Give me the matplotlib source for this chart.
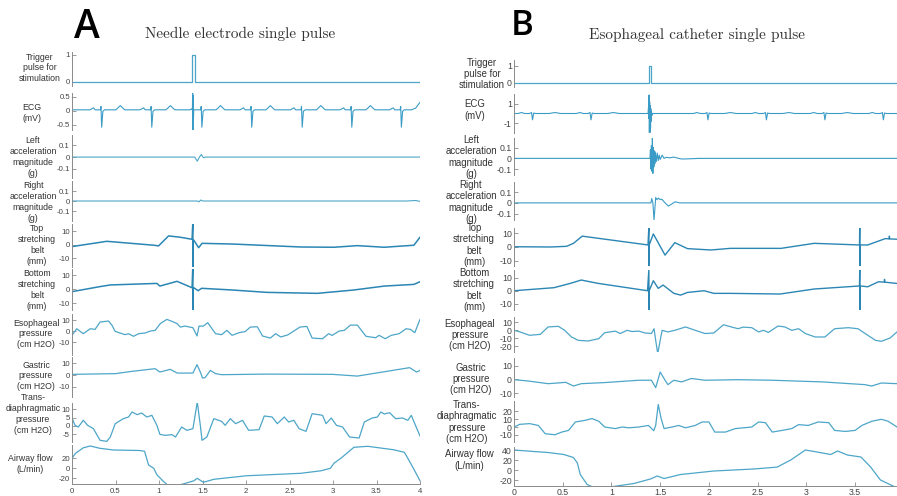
import matplotlib
matplotlib.use('Agg')
import matplotlib.pyplot as plt
import numpy as np
from matplotlib.ticker import FuncFormatter

plt.rcParams['axes.unicode_minus'] = False
plt.rcParams['font.family'] = ['Liberation Sans', 'DejaVu Sans']

# ---------------- data ----------------
labels = ["Trigger\npulse for\nstimulation", "ECG\n(mV)",
          "Left\nacceleration\nmagnitude\n(g)", "Right\nacceleration\nmagnitude\n(g)",
          "Top\nstretching\nbelt\n(mm)", "Bottom\nstretching\nbelt\n(mm)",
          "Esophageal\npressure\n(cm H2O)", "Gastric\npressure\n(cm H2O)",
          "Trans-\ndiaphragmatic\npressure\n(cm H2O)", "Airway flow\n(L/min)"]
titleA = "Needle electrode single pulse"
titleB = "Esophageal catheter single pulse"
xticksA = [0, 0.5, 1, 1.5, 2, 2.5, 3, 3.5, 4]
xticksB = [0, 0.5, 1, 1.5, 2, 2.5, 3, 3.5]

# ----- Panel A -----
trigA_t = [0, 1.38, 1.38, 1.41, 1.41, 4.0]
trigA_v = [0, 0, 1, 1, 0, 0]

ecgA_beats = [0.335, 0.911, 1.487, 2.06, 2.64, 3.21, 3.78]
ecgA_dt = [-0.13, -0.105, -0.088, -0.07, -0.02, -0.008, -0.002, 0.006, 0.02, 0.04, 0.17, 0.22, 0.27]
ecgA_dv = [0.0, 0.04, 0.07, 0.0, 0.0, 0.0, 0.12, -0.62, -0.05, 0.0, 0.0, 0.15, 0.0]
ecgA_base_t = [0.0, 3.9, 4.0]
ecgA_base_v = [0.04, 0.04, 0.16]
ecgA_art_t = [1.384, 1.387, 1.390, 1.393, 1.396, 1.399]
ecgA_art_v = [0.04, 0.72, -0.72, 0.55, -0.3, 0.04]

laccA_t = [0, 1.41, 1.44, 1.465, 1.487, 1.51, 1.54, 4.0]
laccA_v = [0, 0, -0.035, 0.0, 0.022, -0.005, 0, 0]
raccA_t = [0, 1.44, 1.46, 1.48, 1.50, 1.53, 3.85, 3.95, 4.0]
raccA_v = [0, 0, -0.008, 0.01, 0.0, 0, 0, 0.005, -0.004]

topA_t = [0, 0.40, 0.94, 0.995, 1.11, 1.245, 1.38, 1.389, 1.390, 1.392, 1.40, 1.456, 1.495,
          1.84, 2.63, 3.01, 3.28, 3.59, 3.93, 4.0]
topA_v = [-1.2, 2.7, -0.2, -0.7, 6.7, 5.7, 4.2, 17, -17, 3.8, 3.5, -2.0, 1.2,
          0.7, -1.5, -1.7, -0.5, -1.7, -0.2, 5.7]
botA_t = [0, 0.32, 0.44, 0.976, 1.01, 1.207, 1.38, 1.389, 1.390, 1.392, 1.40, 1.45, 1.49,
          1.84, 2.24, 2.82, 3.24, 3.59, 3.93, 4.0]
botA_v = [-1.9, 1.7, 2.9, 4.0, 2.1, 5.5, 0.9, 17, -17, 0.9, 0.9, -1.2, 0.5,
          -0.7, -2.4, -3.1, -0.7, 2.1, 3.3, 5.2]

esoA_t = [0, 0.054, 0.13, 0.21, 0.265, 0.323, 0.42, 0.46, 0.496, 0.61, 0.65, 0.707, 0.765, 0.84,
          0.90, 0.956, 1.014, 1.09, 1.149, 1.21, 1.245, 1.30, 1.39, 1.437, 1.46, 1.51, 1.56, 1.65,
          1.72, 1.78, 1.84, 1.92, 1.99, 2.05, 2.13, 2.19, 2.28, 2.34, 2.40, 2.48, 2.55, 2.62, 2.70,
          2.76, 2.88, 2.95, 2.99, 3.07, 3.13, 3.20, 3.28, 3.38, 3.49, 3.53, 3.60, 3.67, 3.76, 3.84,
          3.89, 3.94, 4.0]
esoA_v = [-3.9, 2.1, -2.4, 2.1, 1.5, 8.2, 9.1, 5.2, -0.3, -3.3, -2.4, -4.8, -2.4, -1.8,
          0.0, 0.6, 6.7, 10.6, 8.8, 6.7, 3.6, 4.5, 3.0, -4.5, 4.5, 4.5, 7.6, -2.4,
          -3.3, 0.6, -3.9, -1.5, -0.5, 3.6, 3.9, -4.5, -6.4, -2.4, -5.4, -3.5, 0.0, 3.6, 4.2,
          -6.4, -7.0, -2.4, -4.0, 0.0, 0.6, 5.4, 5.4, -4.8, -6.1, -3.9, -7.0, -3.9, -2.4, 2.1,
          1.5, -1.5, 10.6]

gasA_t = [0, 0.5, 0.69, 0.956, 1.01, 1.13, 1.21, 1.39, 1.437, 1.475, 1.50, 1.53, 1.59, 1.65,
          1.72, 2.22, 2.99, 3.28, 3.57, 3.88, 3.96, 4.0]
gasA_v = [0.6, 1.2, 3.2, 5.5, 2.6, 4.9, 1.7, 1.7, 9.0, 2.6, -2.6, -2.2, 4.0, 1.2,
          0.3, 0.8, 0.6, -0.9, 2.6, 6.4, 2.6, 4.0]

traA_t = [0, 0.035, 0.073, 0.13, 0.18, 0.246, 0.323, 0.40, 0.44, 0.497, 0.59, 0.65, 0.69, 0.75,
          0.80, 0.86, 0.918, 0.976, 1.01, 1.07, 1.149, 1.19, 1.26, 1.32, 1.39, 1.44, 1.475, 1.495,
          1.55, 1.63, 1.72, 1.76, 1.82, 1.88, 1.96, 2.03, 2.15, 2.21, 2.30, 2.36, 2.44, 2.49, 2.55,
          2.61, 2.69, 2.76, 2.88, 2.92, 2.98, 3.04, 3.11, 3.19, 3.30, 3.36, 3.45, 3.51, 3.55, 3.59,
          3.65, 3.72, 3.80, 3.86, 3.90, 3.94, 4.0]
traA_v = [4.8, 0.4, -0.6, 3.4, 0.4, -1.6, -8.6, -9.2, -6.6, 1.4, 4.4, 5.4, 8.4, 6.8,
          7.8, 5.4, 6.4, 0.4, -5.0, -5.6, -5.2, -6.6, -0.6, -2.6, -1.6, 14.4, 0.4, -8.6,
          -6.6, 4.4, 2.8, 0.4, 4.4, 1.4, 3.4, -2.6, -2.2, 6.0, 5.4, 1.4, 5.4, 2.4, 3.4,
          -1.6, -3.2, 7.4, 6.4, 1.4, 4.8, 0.4, -0.6, -6.6, -7.2, 2.4, 4.8, 5.4, 8.4, 7.2,
          8.0, 4.4, 4.8, 3.4, 6.4, 1.4, -6.0]

airA_t = [0, 0.04, 0.13, 0.21, 0.32, 0.477, 0.78, 0.834, 0.88, 0.94, 0.976, 1.05, 1.11, 1.245,
          1.40, 1.44, 1.51, 1.63, 2.0, 2.63, 2.86, 2.97, 3.01, 3.09, 3.24, 3.40, 3.70, 3.82, 3.87,
          3.93, 4.0]
airA_v = [20, 30, 41, 44.6, 40, 36.6, 35.6, 34, 6.6, 0, -13, -26, -35, -33,
          -25, -20, -28, -22, -15, -10, -5, 0, 10, 20, 42, 44, 37, 32, 17,
          -2, -25]

# ----- Panel B -----
trigB_t = [0, 1.383, 1.383, 1.41, 1.41, 3.93]
trigB_v = [0, 0, 1, 1, 0, 0]

ecgB_beats = [0.19, 0.79, 1.99, 2.59, 3.19, 3.79]
ecgB_dt = [-0.15, -0.113, -0.08, -0.03, -0.01, 0.0, 0.012, 0.03, 0.17, 0.23, 0.29]
ecgB_dv = [0.0, 0.1, 0.0, 0.0, 0.1, -0.65, 0.05, 0.0, 0.0, 0.1, 0.0]
ecgB_base_t = [0.0, 3.93]
ecgB_base_v = [0.0, 0.0]
ecgB_art_t = [1.375, 1.38, 1.383, 1.386, 1.389, 1.392, 1.395, 1.398, 1.401, 1.404, 1.407,
              1.41, 1.415, 1.42]
ecgB_art_v = [0.0, 0.6, -0.5, 1.9, -1.95, 1.2, -1.95, 0.8, -1.5, 0.5, -0.8, 0.2, -0.2, 0.0]

laccB_t = [0, 1.395, 1.400, 1.405, 1.410, 1.415, 1.420, 1.425, 1.430, 1.435, 1.44, 1.445,
           1.45, 1.46, 1.47, 1.48, 1.49, 1.50, 1.52, 1.54, 1.56, 1.60, 1.64, 1.69, 1.72, 1.8,
           1.9, 3.93]
laccB_v = [0, 0, 0.08, -0.1, 0.12, -0.12, 0.19, -0.14, 0.1, -0.08, 0.07, -0.05, 0.06, -0.03,
           0.05, -0.02, 0.03, -0.01, 0.03, 0.0, 0.01, 0.005, 0.012, 0.0, -0.006, -0.004,
           0.0, 0.0]
raccB_t = [0, 1.405, 1.413, 1.425, 1.437, 1.454, 1.468, 1.482, 1.50, 1.516, 1.55, 1.584,
           1.62, 1.653, 1.70, 1.755, 3.93]
raccB_v = [0, 0, 0.04, 0.0, -0.16, 0.05, 0.03, 0.045, 0.03, 0.035, 0.0, -0.03,
           -0.01, 0.01, 0.0, 0.0, 0.0]

topB_t = [0, 0.377, 0.54, 0.61, 0.70, 0.886, 1.375, 1.384, 1.385, 1.387, 1.43, 1.55, 1.65,
          1.78, 2.02, 2.22, 2.74, 3.08, 3.545, 3.548, 3.549, 3.551, 3.63, 3.81, 3.85, 3.852,
          3.854, 3.93]
topB_v = [0.2, 0.0, 0.5, 2.7, 8.0, 6.2, 1.5, 15, -15, 1.5, 9.6, -6.0, 3.2,
          -1.2, -2.2, -1.0, -1.0, 2.7, 1.5, 15, -15, 1.5, 1.5, 6.2, 6.0, 8.0,
          6.0, 5.7]
botB_t = [0, 0.41, 0.58, 0.69, 0.86, 1.37, 1.384, 1.385, 1.387, 1.43, 1.48, 1.53, 1.64, 1.71,
          1.78, 1.95, 2.05, 2.22, 2.73, 3.08, 3.545, 3.548, 3.549, 3.551, 3.63, 3.74, 3.80,
          3.802, 3.804, 3.93]
botB_v = [0.0, 2.3, 5.6, 8.1, 5.6, 0.0, 16, -16, 0.0, 7.6, 1.8, 4.3, -2.0, -3.3,
          -1.3, 0.0, -2.0, -2.0, -2.5, 1.3, 3.6, 16, -16, 3.6, 3.0, 6.8, 6.5,
          8.6, 6.5, 5.5]

esoB_t = [0, 0.062, 0.16, 0.27, 0.35, 0.455, 0.52, 0.59, 0.66, 0.76, 0.87, 0.93, 1.04, 1.09,
          1.16, 1.21, 1.28, 1.345, 1.41, 1.437, 1.454, 1.475, 1.50, 1.52, 1.58, 1.65, 1.76, 1.86,
          1.96, 2.05, 2.15, 2.23, 2.30, 2.35, 2.44, 2.51, 2.56, 2.61, 2.71, 2.78, 2.85, 2.92,
          2.99, 3.09, 3.19, 3.29, 3.43, 3.53, 3.62, 3.71, 3.77, 3.86, 3.93]
esoB_v = [0, -2, -6.2, -5, 4.2, 5, 0, -8.3, -12.5, -13.3, -10.4, -3, -1, -4,
          0, -1.5, -1, -3.3, -4, 2, -12.5, -29, -12.5, 0, -2, 0, 4.2, 0,
          -4, -3.3, 7, 4.2, 2, 4, 3.3, -2, 0, -2.6, 5.4, 4.2, 0, 2,
          -4, -8.3, -8.3, 2, 3.3, 2, -5.4, -12.5, -13.7, -9.5, -2]

gasB_t = [0, 0.14, 0.35, 0.45, 0.53, 0.61, 0.69, 0.93, 1.28, 1.41, 1.454, 1.50, 1.55, 1.58,
          1.64, 1.72, 1.82, 1.96, 2.30, 2.65, 3.16, 3.60, 3.67, 3.77, 3.93]
gasB_v = [-0.3, -1.2, -3.2, -2.7, -2.2, -4.9, -3.2, -2.4, -0.7, -0.7, -6.1, 5.3, -0.7, -3.9,
          -0.7, -1.9, 0.6, -0.7, -0.3, -0.7, -1.9, -3.9, -4.9, -2.7, -3.2]

traB_t = [0, 0.06, 0.16, 0.25, 0.32, 0.42, 0.49, 0.56, 0.63, 0.73, 0.80, 0.87, 0.93, 1.04,
          1.11, 1.18, 1.28, 1.38, 1.434, 1.454, 1.48, 1.51, 1.54, 1.62, 1.69, 1.76, 1.86, 1.93,
          2.0, 2.06, 2.17, 2.27, 2.44, 2.51, 2.58, 2.65, 2.75, 2.85, 2.92, 3.02, 3.12, 3.23,
          3.29, 3.40, 3.50, 3.57, 3.67, 3.77, 3.84, 3.93]
traB_v = [0, 3.4, 4.3, 2.0, -8.5, -9.8, -6.4, -4.3, 6.4, 8.5, 10.7, 7.3, 0, -2,
          0, -1, 0, 2, -4.7, 2, 28.6, 10.7, -2, 0, 2, -1, 2, 6.4,
          6.4, -6.4, -6.4, -2, 0, 6.4, 5.5, -6.4, -4.3, -2, 3, 2, 6.4, 5.5,
          -4.3, -5.6, -4.3, 2, 7.3, 9.8, 7.3, 0]

airB_t = [0, 0.2, 0.35, 0.51, 0.61, 0.65, 0.68, 0.75, 0.82, 1.02, 1.23, 1.40, 1.47, 1.54,
          1.71, 2.05, 2.46, 2.70, 2.84, 2.99, 3.08, 3.25, 3.32, 3.42, 3.56, 3.66, 3.76, 3.90, 3.93]
airB_v = [40, 37, 35, 31, 25, 14, -9, -29, -35, -33, -27, -18, -12, -17,
          -9, -2, 2, 5.8, 20, 40, 37, 31, 38, 30, 26, 5.8, -20, -33, -34]

# ---------------- figure ----------------
W, H = 897, 496
fig = plt.figure(figsize=(W / 100, H / 100), dpi=100)

C_LINE = '#4da6c8'
C_BELT = '#2b86b4'
C_ECG = '#3a9cc6'


def build_ecg(beats, dt, dv, bt, bv, at, av):
    t = list(bt)
    for b in beats:
        t += [b + d for d in dt]
    t += list(at)
    t = np.array(sorted(set(t)))
    v = np.interp(t, bt, bv)
    for b in beats:
        for d, x in zip(dt, dv):
            v[np.isclose(t, b + d)] += x
    for a, x in zip(at, av):
        v[np.isclose(t, a)] = x
    return t, v


ecgA = build_ecg(ecgA_beats, ecgA_dt, ecgA_dv, ecgA_base_t, ecgA_base_v, ecgA_art_t, ecgA_art_v)
ecgB = build_ecg(ecgB_beats, ecgB_dt, ecgB_dv, ecgB_base_t, ecgB_base_v, ecgB_art_t, ecgB_art_v)

fmt = FuncFormatter(lambda v, p: ('%g' % v))

panelA = dict(
    left=72, right=420, xlim=(0, 4), xticks=xticksA, fs_tick=5.6, fs_lab=6.3, ls=1.28, xpad=3,
    rows=[
        (52, 86, (-0.15, 1.11), [0, 1], trigA_t, trigA_v, C_LINE, 0.9, (40, 68)),
        (93, 130, (-0.68, 0.64), [-0.5, 0, 0.5], ecgA[0], ecgA[1], C_ECG, 0.8, (32, 113)),
        (135, 178, (-0.18, 0.19), [-0.1, 0, 0.1], laccA_t, laccA_v, C_LINE, 0.8, (33, 157)),
        (181, 221, (-0.2, 0.2), [-0.1, 0, 0.1], raccA_t, raccA_v, C_LINE, 0.8, (33, 202)),
        (224, 267, (-16.3, 15.5), [-10, 0, 10], topA_t, topA_v, C_BELT, 1.1, (37, 245)),
        (269, 310, (-15, 14.3), [-10, 0, 10], botA_t, botA_v, C_BELT, 1.1, (37, 290)),
        (314, 355, (-21.8, 15.5), [-10, 0, 10], esoA_t, esoA_v, C_LINE, 0.9, (36, 334)),
        (357, 397, (-19, 15.6), [-10, 0, 10], gasA_t, gasA_v, C_LINE, 0.9, (36, 376)),
        (403, 442, (-9.6, 13.8), [-5, 0, 5, 10], traA_t, traA_v, C_LINE, 0.9, (33, 414)),
        (445, 484, (-31.4, 46.6), [-20, 0, 20], airA_t, airA_v, C_LINE, 0.9, (30, 464)),
    ])
panelB = dict(
    left=514, right=897, xlim=(0, 3.93), xticks=xticksB, fs_tick=6.3, fs_lab=6.9, ls=1.18, xpad=1.5,
    rows=[
        (60, 87, (-0.24, 1.35), [0, 1], trigB_t, trigB_v, C_LINE, 0.9, (482, 74)),
        (94, 133, (-2, 2), [-1, 1], ecgB[0], ecgB[1], C_ECG, 0.8, (475, 110)),
        (138, 175, (-0.155, 0.19), [-0.1, 0, 0.1], laccB_t, laccB_v, C_ECG, 0.8, (471, 157)),
        (182, 220, (-0.16, 0.195), [-0.1, 0, 0.1], raccB_t, raccB_v, C_ECG, 0.8, (471, 202)),
        (228, 266, (-14, 14), [-10, 0, 10], topB_t, topB_v, C_BELT, 1.0, (474, 245)),
        (270, 310, (-14.6, 15.7), [-10, 0, 10], botB_t, botB_v, C_BELT, 1.0, (474, 290)),
        (317, 352, (-27, 16.6), [-20, -10, 0, 10], esoB_t, esoB_v, C_LINE, 0.9, (470, 335)),
        (358, 397, (-12.9, 15.5), [-10, 0, 10], gasB_t, gasB_v, C_LINE, 0.9, (471, 379)),
        (401, 442, (-19, 33), [-10, 0, 10, 20], traB_t, traB_v, C_LINE, 0.9, (467, 422)),
        (447, 486, (-32, 46), [-20, 0, 20, 40], airB_t, airB_v, C_LINE, 0.9, (469, 460)),
    ])


def draw_panel(p):
    n = len(p['rows'])
    for i, (top, bot, ylim, yt, t, v, col, lw, (lx, ly)) in enumerate(p['rows']):
        ax = fig.add_axes([p['left'] / W, 1 - bot / H, (p['right'] - p['left']) / W, (bot - top) / H])
        ax.patch.set_alpha(0)
        ax.plot(t, v, color=col, lw=lw, solid_joinstyle='round')
        ax.set_xlim(*p['xlim'])
        ax.set_ylim(*ylim)
        ax.set_yticks(yt)
        ax.yaxis.set_major_formatter(fmt)
        for s in ['top', 'right']:
            ax.spines[s].set_visible(False)
        ax.spines['left'].set_color('#8a8a8a')
        ax.spines['left'].set_linewidth(0.7)
        ax.tick_params(axis='y', direction='in', length=3, width=0.6, color='#8a8a8a',
                       labelsize=p['fs_tick'], labelcolor='#444444', pad=1.5)
        if i == n - 1:
            ax.spines['bottom'].set_color('#8a8a8a')
            ax.spines['bottom'].set_linewidth(0.7)
            ax.set_xticks(p['xticks'])
            ax.xaxis.set_major_formatter(fmt)
            ax.tick_params(axis='x', direction='in', length=3, width=0.6, color='#8a8a8a',
                           labelsize=p['fs_tick'], labelcolor='#444444', pad=p['xpad'])
        else:
            ax.spines['bottom'].set_visible(False)
            ax.set_xticks([])
        fig.text(lx / W, 1 - ly / H, labels[i], ha='center', va='center', multialignment='center',
                 fontsize=p['fs_lab'], color='#333333', linespacing=p['ls'])


draw_panel(panelA)
draw_panel(panelB)

fig.text(240 / W, 1 - 34 / H, titleA, ha='center', va='center', fontsize=11,
         family=['cmr10', 'DejaVu Serif'], color='#333333')
fig.text(697 / W, 1 - 35 / H, titleB, ha='center', va='center', fontsize=11,
         family=['cmr10', 'DejaVu Serif'], color='#333333')
fig.text(87 / W, 1 - 28 / H, 'A', ha='center', va='center', fontsize=28,
         family=['Open Sans', 'DejaVu Sans'], weight='semibold', color='black')
fig.text(522 / W, 1 - 26 / H, 'B', ha='center', va='center', fontsize=25,
         family=['Open Sans', 'DejaVu Sans'], weight='semibold', color='black')

fig.savefig('out.png', dpi=100, facecolor='white')
